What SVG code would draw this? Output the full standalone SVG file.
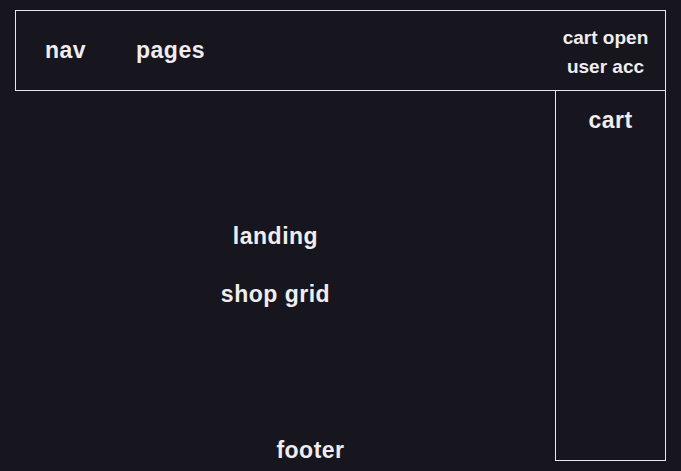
<svg xmlns="http://www.w3.org/2000/svg" width="681" height="471" viewBox="0 0 681 471">
<style>
.box{fill:none;stroke:#e8e8ec;stroke-width:1}
.t{font-family:"Liberation Sans",Arial,sans-serif;font-weight:bold;fill:#efedf2;text-anchor:middle}
.l{font-size:23px;letter-spacing:0.5px}
.s{font-size:19px}
</style>
<rect x="0" y="0" width="681" height="471" fill="#17151d"/>
<g id="header">
<rect class="box" x="15.5" y="10.5" width="650" height="80"/>
</g>
<g id="nav"><text class="t l" x="65.5" y="58">nav</text></g>
<g id="pages"><text class="t l" x="170.5" y="58">pages</text></g>
<g id="cart-open"><text class="t s" x="605.5" y="44">cart open</text></g>
<g id="user-acc"><text class="t s" x="605.5" y="73">user acc</text></g>
<g id="cart">
<rect class="box" x="555.5" y="90.5" width="110" height="370"/>
<text class="t l" x="610.5" y="128">cart</text>
</g>
<g id="landing"><text class="t l" x="275.5" y="244">landing</text></g>
<g id="shop-grid"><text class="t l" x="275.5" y="302">shop grid</text></g>
<g id="footer"><text class="t l" x="310.5" y="458">footer</text></g>
<g id="connectors"></g>
</svg>
